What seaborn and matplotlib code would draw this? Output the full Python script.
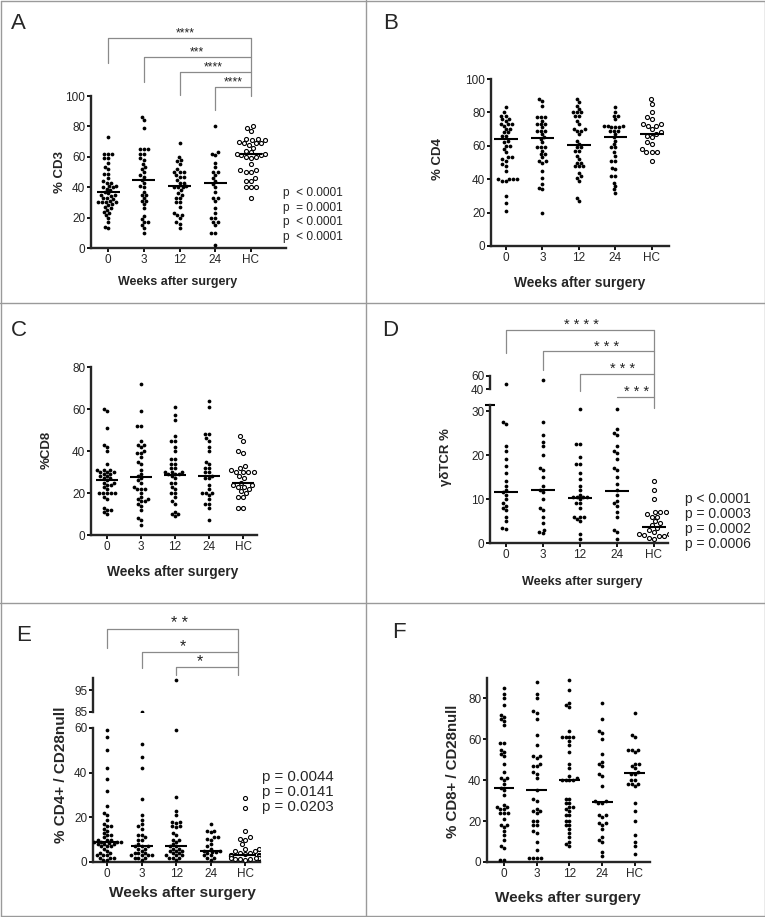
import numpy as np
import pandas as pd
import matplotlib
matplotlib.use('Agg')
import matplotlib.pyplot as plt
from matplotlib.lines import Line2D
import seaborn as sns

weeks = ['0', '3', '12', '24', 'HC']

# A: % CD3
a_w0 = [73, 62, 62, 62, 59, 59, 56, 53, 52, 49, 49, 46, 44, 43, 43, 41, 41, 40, 40, 39, 38, 37, 36,
        35, 35, 34, 33, 33, 32, 31, 30, 30, 30, 30, 29, 28, 27, 26, 25, 24, 23, 22, 20, 17, 14, 13]
a_w3 = [86, 84, 79, 65, 65, 65, 62, 62, 59, 58, 55, 53, 52, 50, 48, 47, 45, 43, 41, 40, 37, 35, 35,
        33, 31, 31, 29, 26, 21, 19, 17, 17, 15, 13, 10]
a_w12 = [69, 60, 58, 57, 55, 52, 50, 50, 50, 48, 47, 47, 45, 43, 43, 41, 40, 40, 40, 38, 36, 35, 33,
         33, 30, 30, 27, 23, 22, 22, 20, 17, 16, 13]
a_w24 = [80, 63, 62, 61, 56, 53, 50, 50, 48, 46, 44, 42, 40, 37, 33, 33, 31, 26, 23, 20, 20, 17, 17,
         15, 10, 10, 2]
a_hc = [80, 79, 77, 72, 72, 71, 71, 70, 69, 69, 69, 68, 66, 64, 63, 62, 62, 61, 61, 60, 60, 59, 55,
        51, 51, 50, 50, 46, 44, 44, 40, 40, 40, 33]
a_med = [37, 44.5, 41, 43, 62]

# B: % CD4
b_w0 = [83, 80, 78, 78, 76, 76, 75, 73, 73, 73, 72, 70, 70, 68, 68, 66, 66, 63, 62, 60, 60, 58, 56,
        53, 53, 52, 51, 49, 48, 45, 40, 40, 40, 40, 39, 39, 30, 26, 21]
b_w3 = [88, 87, 84, 77, 77, 77, 75, 73, 73, 73, 71, 69, 69, 69, 67, 65, 64, 62, 59, 59, 59, 57, 55,
        55, 53, 51, 51, 50, 45, 41, 37, 35, 34, 20]
b_w12 = [88, 86, 84, 82, 80, 80, 80, 78, 78, 75, 73, 70, 70, 69, 69, 67, 63, 61, 59, 59, 57, 57, 54,
         52, 50, 50, 48, 48, 48, 44, 42, 41, 39, 29, 27]
b_w24 = [83, 80, 78, 78, 76, 72, 72, 72, 71, 71, 71, 69, 69, 69, 67, 65, 63, 61, 59, 59, 56, 54, 51,
         51, 47, 46, 42, 42, 38, 36, 34, 32]
b_hc = [88, 85, 80, 77, 76, 73, 73, 72, 72, 70, 68, 67, 66, 65, 62, 61, 58, 56, 56, 56, 51]
b_med = [64, 64.5, 60.5, 65, 67]

# C: %CD8
c_w0 = [60, 59, 51, 43, 42, 40, 34, 31, 31, 31, 30, 30, 30, 29, 29, 28, 28, 27, 27, 26, 25, 25, 24,
        24, 23, 22, 20, 20, 20, 20, 20, 18, 17, 13, 12, 12, 11, 10]
c_w3 = [72, 59, 52, 52, 45, 43, 43, 42, 40, 39, 39, 37, 35, 34, 31, 29, 28, 27, 26, 25, 23, 22, 22,
        22, 20, 18, 17, 17, 16, 16, 15, 14, 12, 8, 7, 5]
c_w12 = [61, 57, 55, 47, 45, 45, 42, 40, 36, 36, 34, 34, 32, 32, 30, 30, 30, 29, 29, 29, 28, 27, 25,
         25, 23, 22, 20, 20, 18, 16, 15, 11, 10, 10, 9]
c_w24 = [64, 61, 48, 48, 46, 45, 42, 40, 35, 34, 32, 32, 30, 30, 28, 27, 27, 24, 22, 20, 20, 20, 19,
         17, 15, 15, 13, 7]
c_hc = [47, 45, 40, 39, 33, 32, 31, 30, 30, 30, 30, 28, 27, 25, 24, 24, 23, 23, 22, 21, 20, 18, 18,
        13, 13]
c_med = [26, 27.5, 28.5, 28, 25]

# D: gamma-delta TCR %
d_w0 = [48, 27.5, 27, 22, 21, 19, 17.5, 16, 14, 13, 12, 11.5, 11, 10, 9, 8.5, 8, 7.5, 6, 5, 3.5, 3.2]
d_w3 = [54, 27.5, 24.5, 23, 22, 20, 17, 16.5, 15, 13, 12, 11.5, 10, 8, 7.5, 6, 4.5, 3, 2.5, 2.2]
d_w12 = [30.5, 22.5, 22.5, 19.5, 18, 18, 16, 14.5, 13, 12, 11, 10.5, 10.5, 10.5, 10.5, 10, 9, 9, 8,
         6, 6, 6, 5.5, 5, 2, 1]
d_w24 = [30.5, 26, 25, 24.5, 22, 21, 20.5, 19, 17, 16.5, 15, 13.5, 12, 11, 9.5, 9, 8.5, 7, 6, 3,
         2.5, 1]
d_hc = [14, 12, 10, 7, 7, 7, 6.5, 6, 6, 5, 4.5, 4, 3.5, 3, 2.5, 2, 2, 1.8, 1.5, 1.5, 1.2, 1]
d_med = [11.5, 12, 10.2, 11.8, 3.7]

# E: % CD4+ / CD28null
e_w0 = [59, 56, 50, 42, 37, 32, 25, 22, 21, 19, 17, 16, 16, 15, 14, 13, 12, 12, 11, 10, 10, 10, 9,
        9, 9, 9, 8.5, 8, 8, 8, 7, 7, 7, 6, 5, 4, 4, 3, 3, 3, 2, 2, 2, 1, 1]
e_w3 = [85, 53, 47, 42, 28, 21, 19, 17, 16, 15, 12, 12, 11, 10, 10, 8, 7, 7, 7, 6, 6, 5, 4, 4, 4, 3,
        3, 3, 3, 2, 2, 2, 1]
e_w12 = [99.5, 59, 29, 23, 21, 18, 18, 17.5, 16, 16, 15.5, 13, 12, 10, 10, 9, 8, 7, 7, 6, 6, 5, 5, 5,
         4, 4, 3, 3, 3, 2, 2, 2, 1]
e_w24 = [17, 14, 14, 13.5, 11, 11, 10.5, 10, 8, 7, 6, 5, 5, 4.5, 4.5, 4, 3, 3, 2, 2, 1]
e_hc = [28.5, 24, 14, 11, 10.5, 10, 8, 6, 6, 5, 5, 4, 4, 3.5, 3, 3, 3, 3, 2.5, 2.5, 2.5, 2.5, 2.5,
        2, 2, 2, 2, 1.5, 1.5, 1.5, 1]
e_med = [9, 7, 7, 5, 3]

# F: % CD8+ / CD28null
f_w0 = [85, 82, 80, 77, 72, 71, 70, 69, 67, 58, 58, 55, 54, 53, 52, 48, 44, 41, 41, 40, 38, 36, 35,
        33, 28, 27, 27, 26, 26, 24, 24, 24, 21, 18, 18, 17, 15, 13, 11, 8, 7, 1, 1]
f_w3 = [88, 82, 80, 74, 73, 70, 62, 57, 52, 52, 51, 48, 47, 47, 44, 43, 41, 35, 31, 30, 26, 25, 25,
        24, 20, 20, 18, 18, 15, 14, 10, 6, 2, 2, 2, 2]
f_w12 = [89, 84, 78, 77, 76, 64, 61, 61, 61, 61, 59, 57, 54, 48, 46, 42, 41, 40, 40, 40, 40, 31, 31,
         29, 29, 27, 27, 26, 25, 23, 23, 20, 20, 18, 18, 16, 14, 12, 10, 9, 8]
f_w24 = [78, 70, 64, 63, 60, 53, 49, 48, 47, 43, 42, 37, 30, 30, 29, 29, 23, 23, 22, 19, 19, 18, 16,
         12, 11, 10, 5, 3]
f_hc = [73, 62, 61, 55, 55, 55, 54, 48, 48, 47, 46, 44, 43, 43, 40, 40, 38, 38, 38, 37, 29, 25, 20,
        13, 10, 8, 4]
f_med = [36, 35, 40, 29.5, 43.5]

p_a = ['p  < 0.0001', 'p  = 0.0001', 'p  < 0.0001', 'p  < 0.0001']
p_d = ['p < 0.0001', 'p = 0.0003', 'p = 0.0002', 'p = 0.0006']
p_e = ['p = 0.0044', 'p = 0.0141', 'p = 0.0203']

W, H = 765, 917
GRAY = '#8a8a8a'

sns.set_style('ticks')
plt.rcParams['font.family'] = ['Liberation Sans', 'DejaVu Sans']

fig = plt.figure(figsize=(W / 100, H / 100), dpi=100)


def px_axes(l, t, r, b):
    return fig.add_axes([l / W, 1 - b / H, (r - l) / W, (b - t) / H])


def to_df(groups):
    return pd.DataFrame({'week': np.repeat(weeks, [len(g) for g in groups]),
                         'value': np.concatenate(groups).astype(float)})


def swarm(ax, df, open_hc=True):
    if open_hc:
        pts = df[df['week'] != 'HC']
        hc = df[df['week'] == 'HC']
    else:
        pts, hc = df, df.iloc[:0]
    sns.swarmplot(data=pts, x='week', y='value', order=weeks, color='black', size=2.7,
                  linewidth=0, ax=ax, warn_thresh=1)
    if len(hc):
        sns.swarmplot(data=hc, x='week', y='value', order=weeks, color='white', size=2.9,
                      edgecolor='black', linewidth=0.8, ax=ax, warn_thresh=1)


def style(ax, xlim, ylim, yticks, bottom=True):
    ax.set_xlim(*xlim)
    ax.set_ylim(*ylim)
    ax.set_yticks(yticks)
    for s in ['top', 'right']:
        ax.spines[s].set_visible(False)
    ax.spines['left'].set_linewidth(1.7)
    ax.spines['bottom'].set_linewidth(1.7)
    ax.tick_params(axis='both', length=3, width=1.3, labelsize=8.5, pad=1.2, color='black')
    ax.set_xlabel('')
    ax.set_ylabel('')
    if not bottom:
        ax.spines['bottom'].set_visible(False)
        ax.set_xticks([])
        ax.patch.set_visible(False)


def medians(ax, meds):
    xs = np.arange(len(meds))
    ax.hlines(meds, xs - 0.32, xs + 0.32, color='black', lw=1.5, zorder=5)


def bracket(ax, x0, x1, y, y0, stars, sx, sy, fs):
    ax.plot([x0, x0, x1], [y0, y, y], color=GRAY, lw=0.9, clip_on=False)
    ax.text(sx, sy, stars, ha='center', va='baseline', fontsize=fs, color='#222222', clip_on=False)


def xlab(px, py, fs):
    fig.text(px / W, 1 - py / H, 'Weeks after surgery', ha='center', va='top',
             fontsize=fs, fontweight='bold')


def ylab(txt, px, py, fs):
    fig.text(px / W, 1 - py / H, txt, ha='center', va='center', rotation=90,
             fontsize=fs, fontweight='bold')


def letter(txt, px, py):
    fig.text(px / W, 1 - py / H, txt, ha='left', va='top', fontsize=16)


def pvals(lines, px, py0, step, fs):
    for i, t in enumerate(lines):
        fig.text(px / W, 1 - (py0 + i * step) / H, t, ha='left', va='center', fontsize=fs)


def break_mark(ax, x, y):
    ax.plot([x], [y], marker='_', ms=7, mew=1.5, color='black', clip_on=False)


# panel frame lines
for x0, y0, x1, y1 in [(0.5, 0.5, 764.5, 0.5), (0.5, 916, 764.5, 916), (0.5, 0.5, 0.5, 916),
                       (764.5, 0.5, 764.5, 916), (366, 0, 366, 917), (0, 303, 765, 303),
                       (0, 603, 765, 603)]:
    fig.add_artist(Line2D([x0 / W, x1 / W], [1 - y0 / H, 1 - y1 / H], color='#9a9a9a', lw=1.0))

# ---- A
ax = px_axes(91, 96, 286, 248)
swarm(ax, to_df([a_w0, a_w3, a_w12, a_w24, a_hc]))
medians(ax, a_med)
style(ax, (-0.48, 4.98), (0, 100), range(0, 101, 20))
bracket(ax, 0, 4, 138, 121.7, '****', 2.15, 139.5, 8.8)
bracket(ax, 1, 4, 125.7, 109, '***', 2.5, 127, 8.8)
bracket(ax, 2, 4, 115.8, 100.7, '****', 2.94, 117, 8.8)
bracket(ax, 3, 4, 106, 90.8, '****', 3.5, 107, 8.8)
ax.plot([4, 4], [138, 100], color=GRAY, lw=0.9, clip_on=False)
xlab(178, 276, 9.0)
ylab('% CD3', 60, 172, 9.5)
letter('A', 11, 13)
pvals(p_a, 283, 193, 14.7, 8.6)

# ---- B
ax = px_axes(491, 79, 669, 246)
swarm(ax, to_df([b_w0, b_w3, b_w12, b_w24, b_hc]))
medians(ax, b_med)
style(ax, (-0.41, 4.47), (0, 100), range(0, 101, 20))
xlab(580, 276, 9.9)
ylab('% CD4', 438, 159, 9.5)
letter('B', 383, 13)

# ---- C
ax = px_axes(91, 367, 257, 535)
swarm(ax, to_df([c_w0, c_w3, c_w12, c_w24, c_hc]))
medians(ax, c_med)
style(ax, (-0.47, 4.41), (0, 80), range(0, 81, 20))
xlab(173, 565, 9.9)
ylab('%CD8', 47, 450, 9.5)
letter('C', 11, 320)

# ---- D (broken axis)
d_df = to_df([d_w0, d_w3, d_w12, d_w24, d_hc])
ax = px_axes(490, 405, 668, 543)
swarm(ax, d_df[d_df['value'] < 35])
medians(ax, d_med)
style(ax, (-0.43, 4.38), (0, 31.4), [0, 10, 20, 30])
break_mark(ax, -0.43, 31.4)
bracket(ax, 0, 4, 48.4, 43.2, '* * * *', 2.03, 48.6, 10.5)
bracket(ax, 1, 4, 43.6, 39.3, '* * *', 2.73, 43.8, 10.5)
bracket(ax, 2, 4, 38.4, 34.5, '* * *', 3.14, 38.6, 10.5)
bracket(ax, 3, 4, 33.2, 33.2, '* * *', 3.54, 33.4, 10.5)
ax.plot([4, 4], [48.4, 30.7], color=GRAY, lw=0.9, clip_on=False)
axu = px_axes(490, 376, 668, 389)
swarm(axu, d_df[d_df['value'] >= 35], open_hc=False)
style(axu, (-0.43, 4.38), (40, 60), [40, 60], bottom=False)
xlab(582, 576, 9.1)
ylab('γδTCR %', 446, 457, 9.5)
letter('D', 382, 320)
pvals(p_d, 685, 499, 15, 10)

# ---- E (broken axis)
e_df = to_df([e_w0, e_w3, e_w12, e_w24, e_hc])
ax = px_axes(93, 728, 260, 862)
swarm(ax, e_df[e_df['value'] < 70])
medians(ax, e_med)
style(ax, (-0.41, 4.43), (0, 60), [0, 20, 40, 60])
bracket(ax, 0, 3.8, 104.3, 95.8, '* *', 2.09, 104.6, 11.5)
bracket(ax, 1, 3.8, 94, 86.9, '*', 2.2, 94.3, 11.5)
bracket(ax, 2, 3.8, 87.3, 83.7, '*', 2.7, 87.6, 11.5)
ax.plot([3.8, 3.8], [104.3, 83.7], color=GRAY, lw=0.9, clip_on=False)
axu = px_axes(93, 678, 260, 712)
swarm(axu, e_df[e_df['value'] >= 70], open_hc=False)
style(axu, (-0.41, 4.43), (85, 100.5), [85, 95], bottom=False)
xlab(182, 886, 11.1)
ylab('% CD4+ / CD28null', 61, 775, 11)
letter('E', 16, 625)
pvals(p_e, 262, 777, 15, 10.8)

# ---- F
ax = px_axes(487, 678, 650, 862)
swarm(ax, to_df([f_w0, f_w3, f_w12, f_w24, f_hc]), open_hc=False)
medians(ax, f_med)
style(ax, (-0.52, 4.46), (0, 90), range(0, 81, 20))
xlab(568, 891, 11.0)
ylab('% CD8+ / CD28null', 453, 771, 10.8)
letter('F', 392, 622)

fig.savefig('out.png', dpi=100)
